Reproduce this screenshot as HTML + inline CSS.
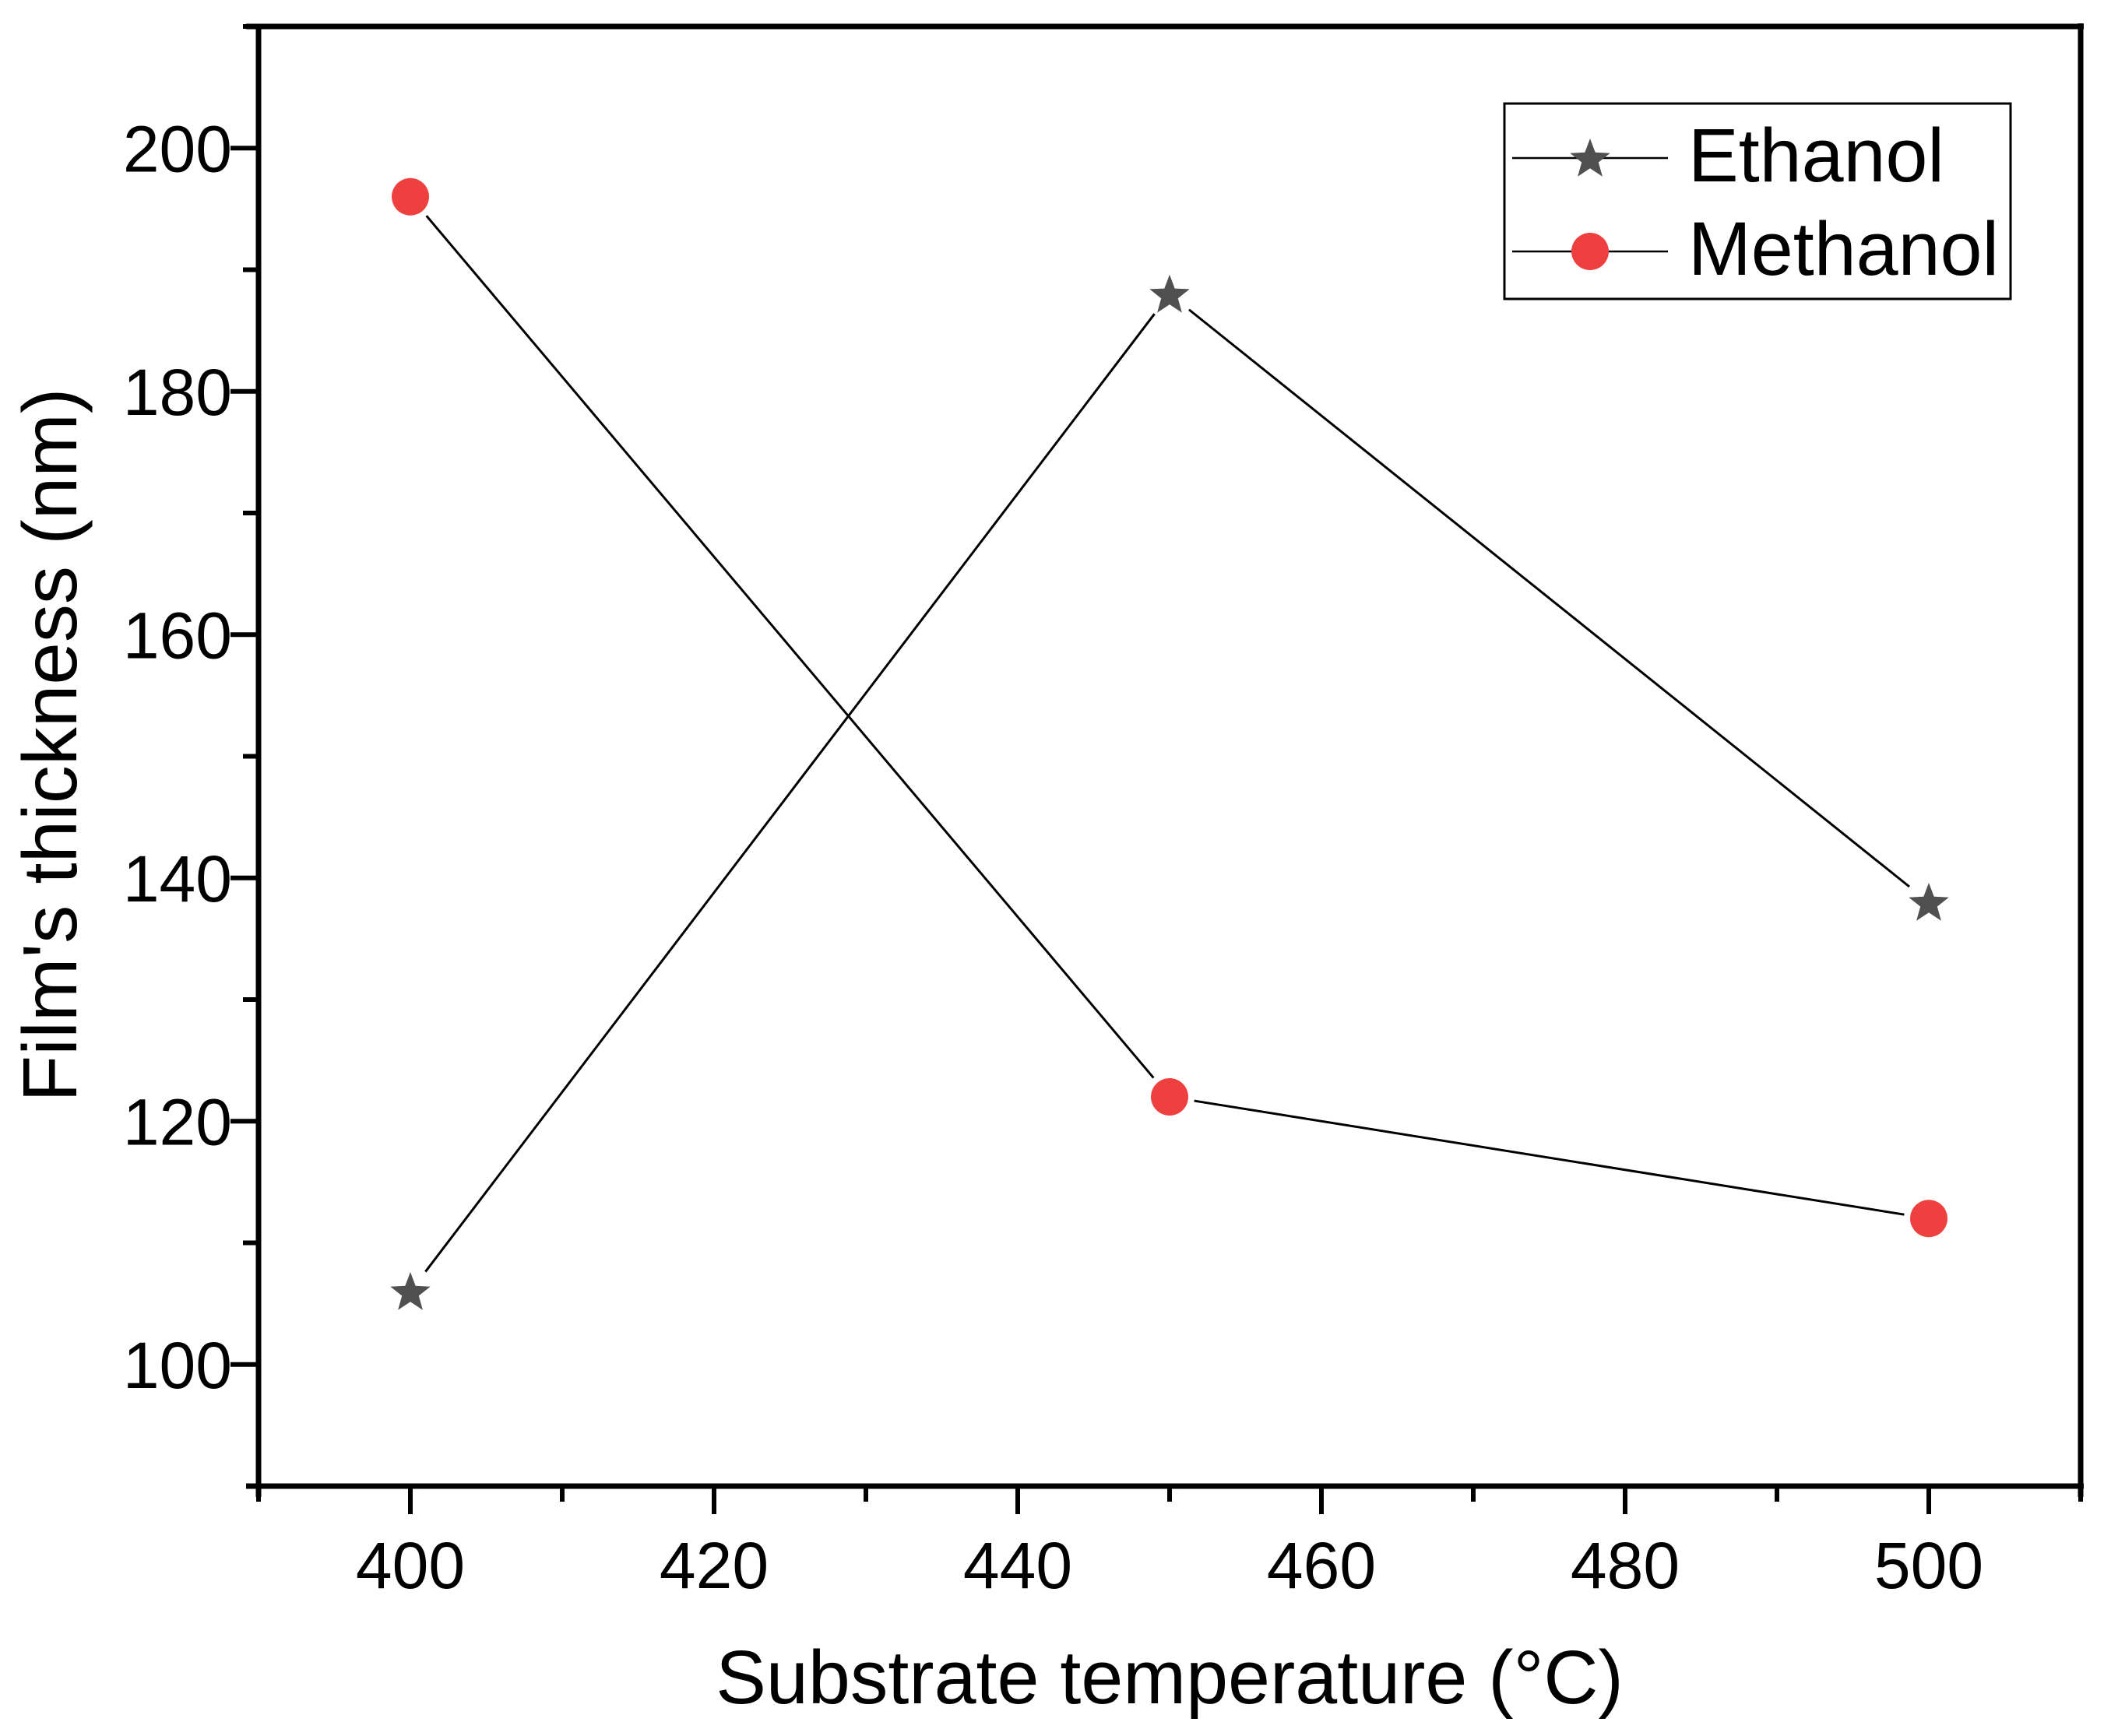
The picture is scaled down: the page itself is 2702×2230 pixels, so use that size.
<!DOCTYPE html>
<html><head><meta charset="utf-8"><style>
html,body{margin:0;padding:0;background:#fff;}
svg{display:block;font-family:"Liberation Sans",Arial,sans-serif;}
</style></head><body>
<svg id="chart" width="2702" height="2230" viewBox="0 0 2702 2230" xmlns="http://www.w3.org/2000/svg">
<rect width="2702" height="2230" fill="#fff"/>
<g id="plot"></g>
<text transform="translate(98,957) rotate(-90)" text-anchor="middle" font-size="98">Film's thickness (nm)</text>
<text x="1502" y="2188" text-anchor="middle" font-size="97">Substrate temperature (°C)</text>
<g>
<rect x="1932" y="133" width="650" height="251" fill="#fff" stroke="#000" stroke-width="3"/>
<g>
<line x1="1942" y1="203" x2="2142" y2="203" stroke="#000" stroke-width="2.5"/>
<polygon id="legStar" fill="#505050"/>
<text x="2168" y="233" font-size="97">Ethanol</text>
</g>
<g>
<line x1="1942" y1="323" x2="2142" y2="323" stroke="#000" stroke-width="2.5"/>
<ellipse cx="2042" cy="323" rx="24" ry="24" fill="#ef4040"/>
<text x="2168" y="353" font-size="97">Methanol</text>
</g>
</g>
</svg>
<script>
const temps = [400, 450, 500];
const ethanol = [106, 188, 138];
const methanol = [196, 122, 112];
const xTicks = [400, 420, 440, 460, 480, 500];
const yTicks = [100, 120, 140, 160, 180, 200];

const L = 332, R = 2672, T = 34, B = 1909;
const xMin = 390, xMax = 510, yMin = 90, yMax = 210;
const sx = v => L + (v - xMin) / (xMax - xMin) * (R - L);
const sy = v => B - (v - yMin) / (yMax - yMin) * (B - T);
const NS = "http://www.w3.org/2000/svg";
const g = document.getElementById('plot');
function mk(tag, attrs, parent) {
  const e = document.createElementNS(NS, tag);
  for (const k in attrs) e.setAttribute(k, attrs[k]);
  (parent || g).appendChild(e);
  return e;
}
function starPts(cx, cy, r) {
  const pts = [];
  for (let i = 0; i < 10; i++) {
    const rr = i % 2 ? r * 0.42 : r;
    const a = -Math.PI / 2 + i * Math.PI / 5;
    pts.push((cx + rr * Math.cos(a)).toFixed(1) + ',' + (cy + rr * Math.sin(a)).toFixed(1));
  }
  return pts.join(' ');
}
document.getElementById('legStar').setAttribute('points', starPts(2042, 205, 27));

let ax = mk('path', {d: `M${L-16},${T} H${R+4} M${L},${T} V${B+14} M${R},${T-4} V${B+14} M${L-16},${B} H${R+4}`, stroke: '#000', 'stroke-width': 7, fill: 'none'});



for (let v = 390; v <= 510; v += 10) {
  const major = xTicks.includes(v);
  const t = mk('line', {x1: sx(v), x2: sx(v), y1: B, y2: B + (major ? 36 : 20), stroke: '#000', 'stroke-width': 6});
  
  
}
xTicks.forEach(v => {
  const t = mk('text', {x: sx(v), y: 2040, 'text-anchor': 'middle', 'font-size': 84});
  t.textContent = v;
  
  
});
for (let v = 100; v <= 210; v += 10) {
  const major = yTicks.includes(v);
  const t = mk('line', {x1: L - (major ? 36 : 20), x2: L, y1: sy(v), y2: sy(v), stroke: '#000', 'stroke-width': 6});
  
  
}
yTicks.forEach(v => {
  const t = mk('text', {x: 298, y: sy(v) + 30, 'text-anchor': 'end', 'font-size': 84});
  t.textContent = v;
  
  
});

function series(vals, name) {
  for (let i = 0; i < vals.length - 1; i++) {
    const x1 = sx(temps[i]), y1 = sy(vals[i]), x2 = sx(temps[i+1]), y2 = sy(vals[i+1]);
    const d = Math.hypot(x2 - x1, y2 - y1), gap = 32;
    const ux = (x2 - x1) / d, uy = (y2 - y1) / d;
    const l = mk('line', {x1: x1 + ux*gap, y1: y1 + uy*gap, x2: x2 - ux*gap, y2: y2 - uy*gap, stroke: '#000', 'stroke-width': 3});
    
    
  }
}
series(ethanol, 'ethanol');
series(methanol, 'methanol');
ethanol.forEach((v, i) => {
  const s = mk('polygon', {points: starPts(sx(temps[i]), sy(v) + 2, 27), fill: '#505050'});
  
  
});
methanol.forEach((v, i) => {
  const c = mk('ellipse', {cx: sx(temps[i]), cy: sy(v), rx: 24, ry: 24, fill: '#ef4040'});
  
  
});
</script>
</body></html>
